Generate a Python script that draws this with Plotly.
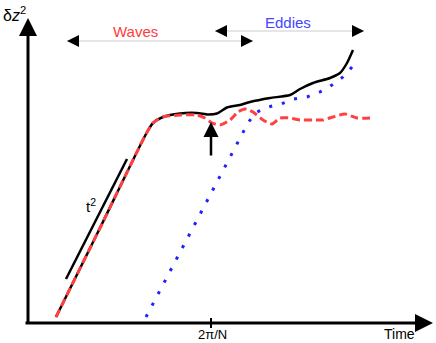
import plotly.graph_objects as go

# curves, in pixel units of the 436x343 canvas (y grows downwards)
total_x = [56, 100, 146, 153, 163, 180, 197, 208, 217, 227, 240, 250, 270, 290, 300, 313, 330, 340, 347, 353]
total_y = [317, 228, 134, 123, 117, 113.5, 113, 114.5, 113.5, 107.5, 105, 102, 98, 95, 89, 83, 78, 73, 63, 50]

waves_x = [56, 100, 146, 153, 163, 180, 197, 205, 212, 220, 230, 238, 245, 253, 263, 272, 280, 290, 300, 313, 323, 333, 345, 357, 370]
waves_y = [317, 228, 134, 123, 117, 115, 115, 118, 123, 125, 120, 112, 109, 112, 120, 124, 118, 118, 120, 120, 120, 117, 114, 118, 118]

eddies_x = [146, 241, 248, 255, 268, 281, 294, 307, 320, 332, 343, 353]
eddies_y = [317, 136, 123, 113, 107, 104, 99, 97, 92, 85, 77, 66]

t2_x = [66, 127]
t2_y = [279, 159]

FONT = "Liberation Sans, Arial, sans-serif"

fig = go.Figure()
fig.add_trace(go.Scatter(x=total_x, y=total_y, mode="lines",
                         line=dict(color="black", width=2.5, shape="spline", smoothing=0.6)))
fig.add_trace(go.Scatter(x=waves_x, y=waves_y, mode="lines",
                         line=dict(color="#ff4040", width=3, dash="8px,4px", shape="spline", smoothing=0.6)))
fig.add_trace(go.Scatter(x=eddies_x, y=eddies_y, mode="lines",
                         line=dict(color="#1f1fff", width=3, dash="3px,10px")))
fig.add_trace(go.Scatter(x=t2_x, y=t2_y, mode="lines", line=dict(color="black", width=2.5)))

# axes drawn as arrows
def arrow(x, y, ax, ay, color="black", width=3, size=1.2):
    fig.add_annotation(x=x, y=y, ax=ax, ay=ay, xref="x", yref="y", axref="x", ayref="y",
                       text="", showarrow=True, arrowhead=2, arrowsize=size,
                       arrowwidth=width, arrowcolor=color, standoff=0)

arrow(28, 18, 28, 325)
arrow(433, 323, 24, 323)
arrow(211, 122, 211, 157, width=2.5)

# range markers for waves / eddies
for x0, x1, y in [(67, 253, 41), (215, 364, 31)]:
    fig.add_shape(type="line", x0=x0, x1=x1, y0=y, y1=y, line=dict(color="#cccccc", width=1))
    arrow(x0, y, x0 + 11, y, width=1, size=2.4)
    arrow(x1, y, x1 - 11, y, width=1, size=2.4)

fig.add_shape(type="line", x0=211, x1=211, y0=318, y1=328, line=dict(color="black", width=2))

def label(x, y, text, color="black", size=14):
    fig.add_annotation(x=x, y=y, xref="x", yref="y", text=text, showarrow=False,
                       font=dict(family=FONT, size=size, color=color))

label(14, 14, "δ<i>z</i><sup>2</sup>", size=16)
label(135, 31, "Waves", color="#ff3b3b", size=15)
label(288, 22, "Eddies", color="#4545ff", size=15)
label(91, 205, "t<sup>2</sup>", size=15)
label(212, 334, "2π/N", size=13)
label(399, 334, "Time", size=14)

fig.update_layout(width=436, height=343, margin=dict(l=0, r=0, t=0, b=0),
                  paper_bgcolor="white", plot_bgcolor="white", showlegend=False)
fig.update_xaxes(range=[0, 436], visible=False)
fig.update_yaxes(range=[343, 0], visible=False)

# drop the default page margin so the figure sits at the window's corner
fig.write_html("out.html", config={"displayModeBar": False},
               post_script="document.body.style.margin='0';")
